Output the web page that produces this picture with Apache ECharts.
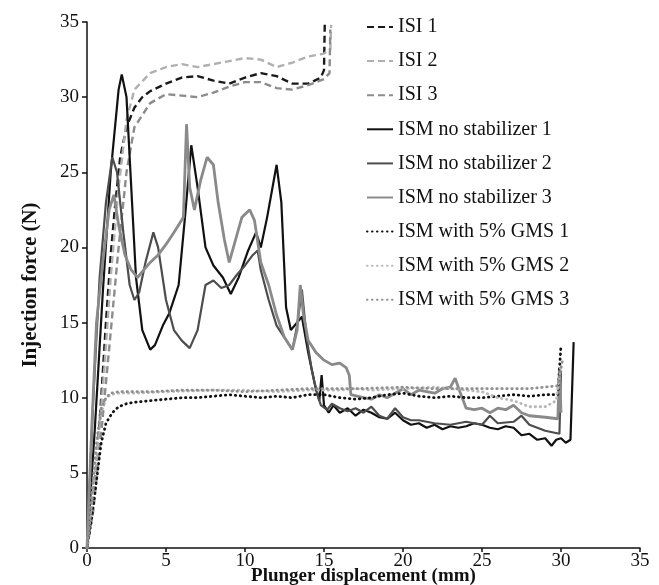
<!DOCTYPE html>
<html><head><meta charset="utf-8">
<script src="https://cdn.jsdelivr.net/npm/echarts@6/dist/echarts.min.js"></script>
<style>html,body{margin:0;padding:0;background:#fff}#c{width:659px;height:585px}</style>
</head><body><div id="c"></div>
<script>
const xTicks = [0,5,10,15,20,25,30,35];
const yTicks = [0,5,10,15,20,25,30,35];
const seriesNames = ["ISI 1","ISI 2","ISI 3","ISM no stabilizer 1","ISM no stabilizer 2","ISM no stabilizer 3","ISM with 5% GMS 1","ISM with 5% GMS 2","ISM with 5% GMS 3"];

const isi1 = [[0,0],[0.3,2.5],[0.6,5.5],[0.9,10],[1.2,15],[1.5,19.5],[1.8,23],[2.1,26],[2.5,28],[3,29.3],[3.5,30],[4,30.4],[5,30.9],[6,31.3],[7,31.4],[8,31.1],[9,30.9],[10,31.3],[11,31.6],[12,31.4],[13,30.9],[14,30.9],[14.8,31.3],[15,31.8],[15.05,35]];
const isi2 = [[0,0],[0.4,3],[0.8,8],[1.1,12],[1.5,18],[2,24],[2.5,28.5],[3,30.5],[4,31.6],[5,32],[6,32.2],[7,32],[8,32.2],[9,32.4],[10,32.6],[11,32.5],[12,32],[13,32.3],[14,32.7],[15,32.9],[15.4,33.2],[15.45,34.8]];
const isi3 = [[0,0],[0.4,2.5],[0.8,6.5],[1.2,11],[1.6,15.5],[2,20],[2.5,25],[3,28],[4,29.6],[5,30.2],[6,30.1],[7,30],[8,30.3],[9,30.7],[10,31],[11,31],[12,30.6],[13,30.5],[14,30.8],[15,31.2],[15.35,31.6],[15.4,34.5]];

const ns1 = [[0,0],[0.5,8],[1,17],[1.5,25],[2,30.5],[2.2,31.5],[2.5,30],[2.8,24],[3.1,18],[3.5,14.5],[4,13.2],[4.3,13.5],[4.8,14.8],[5.2,15.6],[5.8,17.5],[6.2,22],[6.6,26.8],[7,24],[7.5,20],[8,18.8],[8.6,18],[9.1,16.9],[9.6,18],[10.2,19.8],[10.7,21],[11,20],[11.4,22],[12,25.5],[12.3,23],[12.6,16],[12.9,14.5],[13.3,15],[13.6,15.4],[14,13],[14.4,11],[14.7,9.8],[14.85,11.5],[15,9.5],[15.3,9],[15.6,9.5],[16,9],[16.5,9.3],[17,8.8],[17.5,9.2],[18,9],[18.5,8.7],[19,8.6],[19.5,9],[20,8.5],[20.5,8.2],[21,8.3],[21.5,8],[22,8.2],[22.5,7.9],[23,8.1],[23.5,8],[24,8.1],[24.5,8.3],[25,8.2],[25.5,8],[26,7.9],[26.5,8.1],[27,8],[27.5,7.5],[28,7.6],[28.5,7.2],[29,7.3],[29.4,6.8],[29.7,7.2],[30,7.3],[30.3,7],[30.6,7.2],[30.8,13.7]];
const ns2 = [[0,0],[0.4,10],[0.8,18],[1.2,23],[1.6,26],[1.9,25],[2.3,21],[2.7,17.5],[3,16.5],[3.3,17],[3.7,19],[4.2,21],[4.5,20],[5,16.5],[5.5,14.5],[6,13.8],[6.5,13.3],[7,14.5],[7.5,17.5],[8,17.8],[8.5,17.3],[9,17.5],[9.5,18.2],[10,18.8],[10.5,19.5],[10.8,19.8],[11,18.5],[11.5,16.5],[12,14.8],[12.5,14],[13,13.2],[13.3,14.8],[13.6,17.2],[13.9,14],[14.2,12],[14.5,10.5],[14.8,9.5],[15.2,9.2],[15.5,9.6],[16,9.3],[16.5,9.1],[17,9.3],[17.5,9],[18,9.4],[18.5,8.8],[19,8.6],[19.5,9.3],[20,8.7],[20.5,8.5],[21,8.5],[22,8.3],[23,8.2],[24,8.4],[25,8.2],[25.5,8.8],[26,8.3],[27,8.4],[27.5,8.8],[28,8.2],[29,7.8],[29.9,7.6],[30,11.8]];
const ns3 = [[0,0],[0.3,8],[0.6,15],[1,19],[1.4,22.5],[1.7,23.5],[2,21.5],[2.4,19.5],[2.8,18.5],[3.2,18],[3.6,18.5],[4,19],[4.5,19.5],[5,20.2],[5.5,21],[5.8,21.5],[6.1,22],[6.3,28.2],[6.5,24],[6.8,22.5],[7.2,24.5],[7.6,26],[8,25.5],[8.3,23],[8.7,20.5],[9,19],[9.4,20.5],[9.8,22],[10.3,22.5],[10.6,21.8],[11,19],[11.5,17.5],[12,15.5],[12.5,14],[13,13.2],[13.3,14.5],[13.5,17.5],[13.7,15.5],[14,13.8],[14.5,13],[15,12.5],[15.5,12.2],[16,12.3],[16.4,12],[16.6,11.5],[16.7,10.2],[17.5,10],[18,9.9],[18.5,10.2],[19,10],[19.5,10.3],[20,10.6],[20.5,10.2],[21,10.5],[21.5,10.4],[22,10.3],[22.5,10.6],[23,10.7],[23.3,11.3],[23.6,10.4],[24,9.3],[24.5,9.2],[25,9.3],[25.5,9],[26,9.3],[26.5,9.2],[27,9.5],[27.5,9],[28,8.8],[29,8.7],[29.8,8.6],[29.9,12],[30,9]];

const gms1 = [[0,0],[0.3,2],[0.6,4.5],[0.9,7],[1.2,8.3],[1.6,9],[2,9.4],[2.5,9.6],[3,9.7],[4,9.8],[5,9.9],[6,10],[7,10],[8,10.1],[9,10.2],[10,10.1],[11,10],[12,10.1],[13,10],[14,10.2],[15,10.2],[16,10],[17,9.9],[18,10],[19,10.2],[20,10.3],[21,10.1],[22,10],[23,10.1],[24,10],[25,10],[26,10.1],[27,10.2],[28,10.1],[29,10.2],[29.8,10.2],[30,13.5]];
const gms2 = [[0,0],[0.3,3],[0.6,6.5],[0.9,9],[1.2,10],[1.5,10.2],[2,10.3],[3,10.3],[5,10.4],[8,10.5],[10,10.5],[12,10.4],[14,10.5],[15,10.5],[16,10.5],[17,10.6],[18,10.5],[20,10.6],[22,10.7],[24,10.5],[25,10.4],[26,10],[27,9.8],[28,9.4],[29,9.4],[29.7,9.8],[30,12.2]];
const gms3 = [[0,0],[0.3,3.5],[0.6,7],[0.9,9.3],[1.2,10],[1.5,10.3],[2,10.4],[4,10.4],[6,10.5],[8,10.5],[10,10.4],[12,10.5],[14,10.6],[15,10.6],[17,10.6],[20,10.7],[22,10.6],[25,10.6],[28,10.6],[29.8,10.8],[30.1,12.5]];

const dataSets = [isi1,isi2,isi3,ns1,ns2,ns3,gms1,gms2,gms3];
const colors = ["#1a1a1a","#b0b0b0","#8c8c8c","#111111","#4d4d4d","#8a8a8a","#111111","#b8b8b8","#8f8f8f"];
const types = [[7,4],[7,4],[7,4],"solid","solid","solid",[0.5,4.5],[0.5,4.5],[0.5,4.5]];
const widths = [2.4,2.4,2.4,2.2,2.2,2.8,2.8,2.8,2.8];

const font = "Liberation Serif";
const chart = echarts.init(document.getElementById('c'));
chart.setOption({
  animation:false,
  backgroundColor:'#fff',
  grid:{left:87,right:19,top:22,bottom:37,outerBoundsMode:'none',containLabel:false},
  legend:{
    orient:'vertical', left:361, top:12, itemWidth:26, itemHeight:14, itemGap:14.1,
    itemStyle:{opacity:0},
    textStyle:{fontFamily:font,fontSize:20,color:'#111'},
    data:seriesNames
  },
  xAxis:{type:'value',min:0,max:35,interval:5,
    name:'Plunger displacement (mm)',nameLocation:'middle',nameGap:19,nameMoveOverlap:false,
    nameTextStyle:{fontFamily:font,fontSize:19,fontWeight:'bold',color:'#111'},
    axisLine:{lineStyle:{color:'#111',width:1.5}},
    axisTick:{show:true,length:4,lineStyle:{color:'#111',width:1.5}},
    axisLabel:{fontFamily:font,fontSize:19,color:'#111',margin:4,
      formatter:v=>xTicks.includes(v)?String(v):''},
    splitLine:{show:false}},
  yAxis:{type:'value',min:0,max:35,interval:5,
    name:'Injection force (N)',nameLocation:'middle',nameGap:46,nameMoveOverlap:false,
    nameTextStyle:{fontFamily:font,fontSize:21,fontWeight:'bold',color:'#111'},
    axisLine:{show:true,lineStyle:{color:'#111',width:1.5}},
    axisTick:{show:true,length:5,lineStyle:{color:'#111',width:1.5}},
    axisLabel:{fontFamily:font,fontSize:19,color:'#111',margin:8,
      formatter:v=>yTicks.includes(v)?String(v):''},
    splitLine:{show:false}},
  series:seriesNames.map((n,i)=>({
    name:n,type:'line',data:dataSets[i],symbol:'none',showSymbol:false,
    lineStyle:{color:colors[i],width:widths[i],type:types[i],cap:i>=6?'round':'butt'},
    itemStyle:{color:colors[i]},z:i<3?2:(i<6?3:4)
  }))
});
</script></body></html>
